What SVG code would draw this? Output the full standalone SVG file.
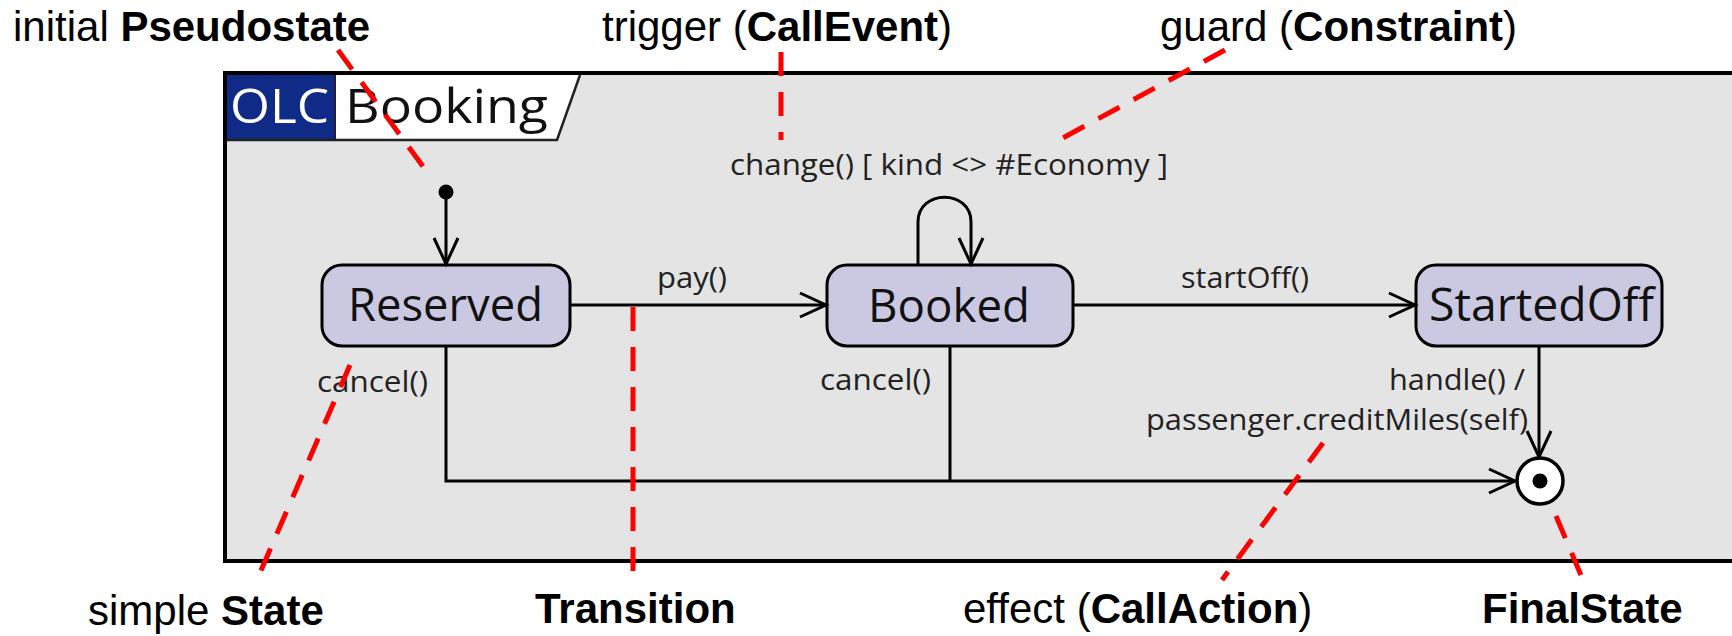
<svg xmlns="http://www.w3.org/2000/svg" width="1732" height="636" viewBox="0 0 1732 636">
<defs>
<style>
.state{fill:#cbc9e2;stroke:#000;stroke-width:3}
.st{font-family:"Open Sans","DejaVu Sans",sans-serif;font-size:46px;fill:#111}
.lbl{font-family:"Open Sans","DejaVu Sans",sans-serif;font-size:30px;fill:#222}
.ann{font-family:"Liberation Sans",Arial,sans-serif;font-size:42px;fill:#000}
.b{font-weight:bold}
.conn{fill:none;stroke:#000;stroke-width:3}
.red{fill:none;stroke:#ff0000;stroke-width:5;stroke-dasharray:24 16}
</style>
<marker id="arr" markerUnits="userSpaceOnUse" viewBox="-30 -16 34 32" markerWidth="34" markerHeight="32" refX="0" refY="0" orient="auto">
<path d="M-26,-12 L0,0 L-26,12" fill="none" stroke="#000" stroke-width="3"/>
</marker>
</defs>
<rect width="1732" height="636" fill="#fff"/>
<g id="frame">
<rect x="225" y="73" width="1530" height="488" fill="#e4e4e4" stroke="#000" stroke-width="4"/>
<rect x="227" y="75" width="108" height="65" fill="#0f2a87"/>
<polygon points="335,75 580,75 557,140 335,140" fill="#fff"/>
<path d="M227,140 L557,140 L580,75" fill="none" stroke="#222" stroke-width="2.5"/>
<line x1="335" y1="75" x2="335" y2="140" stroke="#222" stroke-width="2"/>
<text x="230" y="123" class="st" style="font-size:48px;fill:#fff" textLength="99" lengthAdjust="spacingAndGlyphs">OLC</text>
<text x="345" y="123" class="st" style="font-size:48px" textLength="203" lengthAdjust="spacingAndGlyphs">Booking</text>
</g>
<g id="initial">
<circle cx="446" cy="192" r="7.5" fill="#000"/>
</g>
<g id="reserved">
<rect x="322" y="265" width="248" height="81" rx="20" class="state"/>
<text x="348" y="321" class="st" textLength="195" lengthAdjust="spacingAndGlyphs">Reserved</text>
</g>
<g id="booked">
<rect x="827" y="265" width="246" height="81" rx="20" class="state"/>
<text x="868" y="322" class="st" textLength="162" lengthAdjust="spacingAndGlyphs">Booked</text>
</g>
<g id="startedoff">
<rect x="1416" y="265" width="246" height="81" rx="20" class="state"/>
<text x="1429" y="321" class="st" textLength="225" lengthAdjust="spacingAndGlyphs">StartedOff</text>
</g>
<g id="final">
<circle cx="1540" cy="481" r="23" fill="#fff" stroke="#000" stroke-width="3.5"/>
<circle cx="1540" cy="481" r="7.5" fill="#000"/>
</g>
<g id="connectors">
<path class="conn" d="M446,192 L446,264" marker-end="url(#arr)"/>
<path class="conn" d="M570,305 L826,305" marker-end="url(#arr)"/>
<path class="conn" d="M1073,305 L1415,305" marker-end="url(#arr)"/>
<path class="conn" d="M918,265 L918,222 C918,189 971,189 971,222 L971,264" marker-end="url(#arr)"/>
<path class="conn" d="M446,346 L446,481 L1515,481" marker-end="url(#arr)"/>
<path class="conn" d="M950,346 L950,481"/>
<path class="conn" d="M1539,346 L1539,457" marker-end="url(#arr)"/>
<text x="657" y="288" class="lbl" textLength="70" lengthAdjust="spacingAndGlyphs">pay()</text>
<text x="1181" y="288" class="lbl" textLength="128" lengthAdjust="spacingAndGlyphs">startOff()</text>
<text x="730" y="175" class="lbl" textLength="438" lengthAdjust="spacingAndGlyphs">change() [ kind &lt;&gt; #Economy ]</text>
<text x="317" y="392" class="lbl" textLength="111" lengthAdjust="spacingAndGlyphs">cancel()</text>
<text x="820" y="390" class="lbl" textLength="111" lengthAdjust="spacingAndGlyphs">cancel()</text>
<text x="1389" y="390" class="lbl" textLength="136" lengthAdjust="spacingAndGlyphs">handle() /</text>
<text x="1146" y="430" class="lbl" textLength="382" lengthAdjust="spacingAndGlyphs">passenger.creditMiles(self)</text>
</g>
<g id="annotations">
<text x="13" y="41" class="ann">initial <tspan class="b">Pseudostate</tspan></text>
<text x="602" y="41" class="ann">trigger (<tspan class="b">CallEvent</tspan>)</text>
<text x="1160" y="41" class="ann">guard (<tspan class="b">Constraint</tspan>)</text>
<text x="88" y="625" class="ann">simple <tspan class="b">State</tspan></text>
<text x="535" y="623" class="ann b">Transition</text>
<text x="963" y="623" class="ann">effect (<tspan class="b">CallAction</tspan>)</text>
<text x="1482" y="623" class="ann b">FinalState</text>
<path class="red" d="M338,50 L427,172"/>
<path class="red" d="M781,52 L781,140"/>
<path class="red" d="M1225,50 L1059,140"/>
<path class="red" d="M350,365 L256,582"/>
<path class="red" d="M633,307 L633,580"/>
<path class="red" d="M1323,443 L1222,580"/>
<path class="red" d="M1556,516 L1583,580"/>
</g>
</svg>
